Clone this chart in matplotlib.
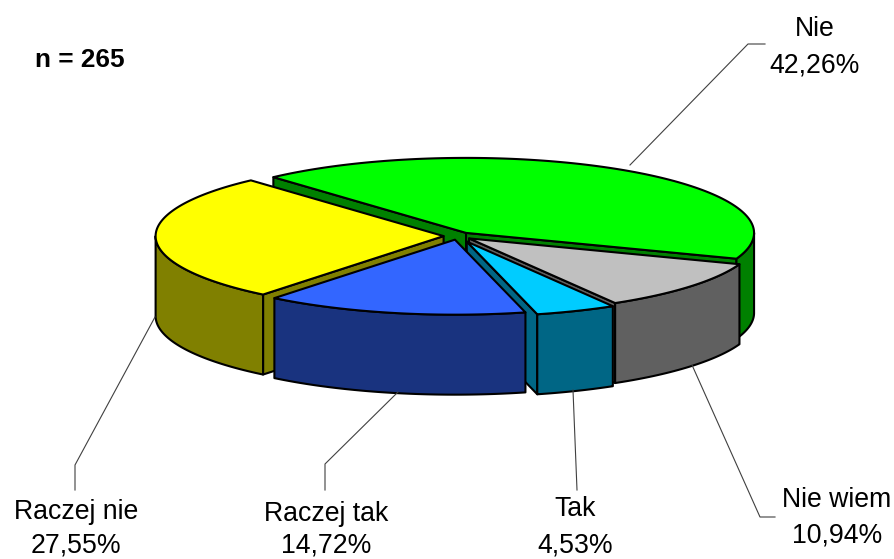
# Camembert 3D eclate : n = 265
import numpy as np
import matplotlib
matplotlib.use("Agg")
import matplotlib.pyplot as plt
from matplotlib.patches import Polygon

plt.rcParams['font.family'] = ['Liberation Sans', 'DejaVu Sans']

# Donnees, dans le sens horaire
categories = ["Nie", "Nie wiem", "Tak", "Raczej tak", "Raczej nie"]
shares = [42.26, 10.94, 4.53, 14.72, 27.55]
share_labels = ["42,26%", "10,94%", "4,53%", "14,72%", "27,55%"]

# Couleurs (dessus, cote) et eclatement
top_colors = ["#00FF00", "#C0C0C0", "#00CCFF", "#3366FF", "#FFFF00"]
side_colors = ["#008000", "#606060", "#006685", "#19337F", "#808000"]
explode = [0.05, 0.05, 0.08, 0.05, 0.05]

# Geometrie en pixels de l'image
CX, CY = 458, 236
RX, RY = 288, 75
DEPTH = 80
START = 132
LW = 1.5

# Position des etiquettes et des traits de rappel
label_pos = [(815, 29, 65), (837, 500, 535), (575, 509, 545), (326, 514, 546), (76, 512, 546)]
leaders = [
    [(630, 165), (748, 44), (765, 44)],
    [(692, 365), (760, 517), (775, 517)],
    [(573, 390), (577, 490)],
    [(398, 392), (325, 464), (325, 490)],
    [(155, 317), (75, 465), (75, 490)],
]


def arc(x0, y0, a, b):
    t = np.radians(np.linspace(a, b, 120))
    return np.column_stack([x0 + RX * np.cos(t), y0 - RY * np.sin(t)])


def draw_slice(ax, x0, y0, a, b, top, side):
    # a > b : on tourne dans le sens horaire
    for ang, visible in ((a, np.cos(np.radians(a)) < 0), (b, np.cos(np.radians(b)) > 0)):
        if visible:
            p = arc(x0, y0, ang, ang)[0]
            face = [(x0, y0), p, p + [0, DEPTH], (x0, y0 + DEPTH)]
            ax.add_patch(Polygon(face, fc=side, ec="black", lw=LW, joinstyle="round"))
    # bord exterieur : seulement la moitie avant
    lo, hi = max(b, 180), min(a, 360)
    if b < 0:
        lo, hi = b, min(a, 0)
    if hi > lo:
        outer = arc(x0, y0, hi, lo)
        rim = np.vstack([outer, outer[::-1] + [0, DEPTH]])
        ax.add_patch(Polygon(rim, fc=side, ec="black", lw=LW, joinstyle="round"))
    pts = np.vstack([[(x0, y0)], arc(x0, y0, a, b)])
    ax.add_patch(Polygon(pts, fc=top, ec="black", lw=LW, joinstyle="round"))


fig = plt.figure(figsize=(8.95, 5.59), dpi=100)
ax = fig.add_axes([0, 0, 1, 1])
ax.set_xlim(0, 895)
ax.set_ylim(559, 0)
ax.axis("off")

# Calcul des angles de chaque part
sweeps = np.array(shares) / sum(shares) * 360
ends = START - np.cumsum(sweeps)
starts = ends + sweeps
slices = []
for i in range(len(shares)):
    a, b = starts[i], ends[i]
    if b < -90:
        a, b = a + 360, b + 360
    mid = np.radians((a + b) / 2)
    x0 = CX + explode[i] * RX * np.cos(mid)
    y0 = CY - explode[i] * RY * np.sin(mid)
    slices.append((x0, y0, a, b))

# Ordre de dessin : de l'arriere vers l'avant
for i in [0, 4, 1, 2, 3]:
    x0, y0, a, b = slices[i]
    draw_slice(ax, x0, y0, a, b, top_colors[i], side_colors[i])

for line in leaders:
    xs, ys = zip(*line)
    ax.plot(xs, ys, color="#404040", lw=0.8, zorder=5)

FS = 19.2
for cat, val, (x, y1, y2) in zip(categories, share_labels, label_pos):
    ax.text(x, y1, cat, fontsize=FS, ha="center", va="center", color="black")
    ax.text(x, y2, val, fontsize=FS, ha="center", va="center", color="black")

ax.text(35, 60, "n = 265", fontsize=18.8, fontweight="bold", ha="left", va="center")

fig.savefig("out.png", dpi=100)
